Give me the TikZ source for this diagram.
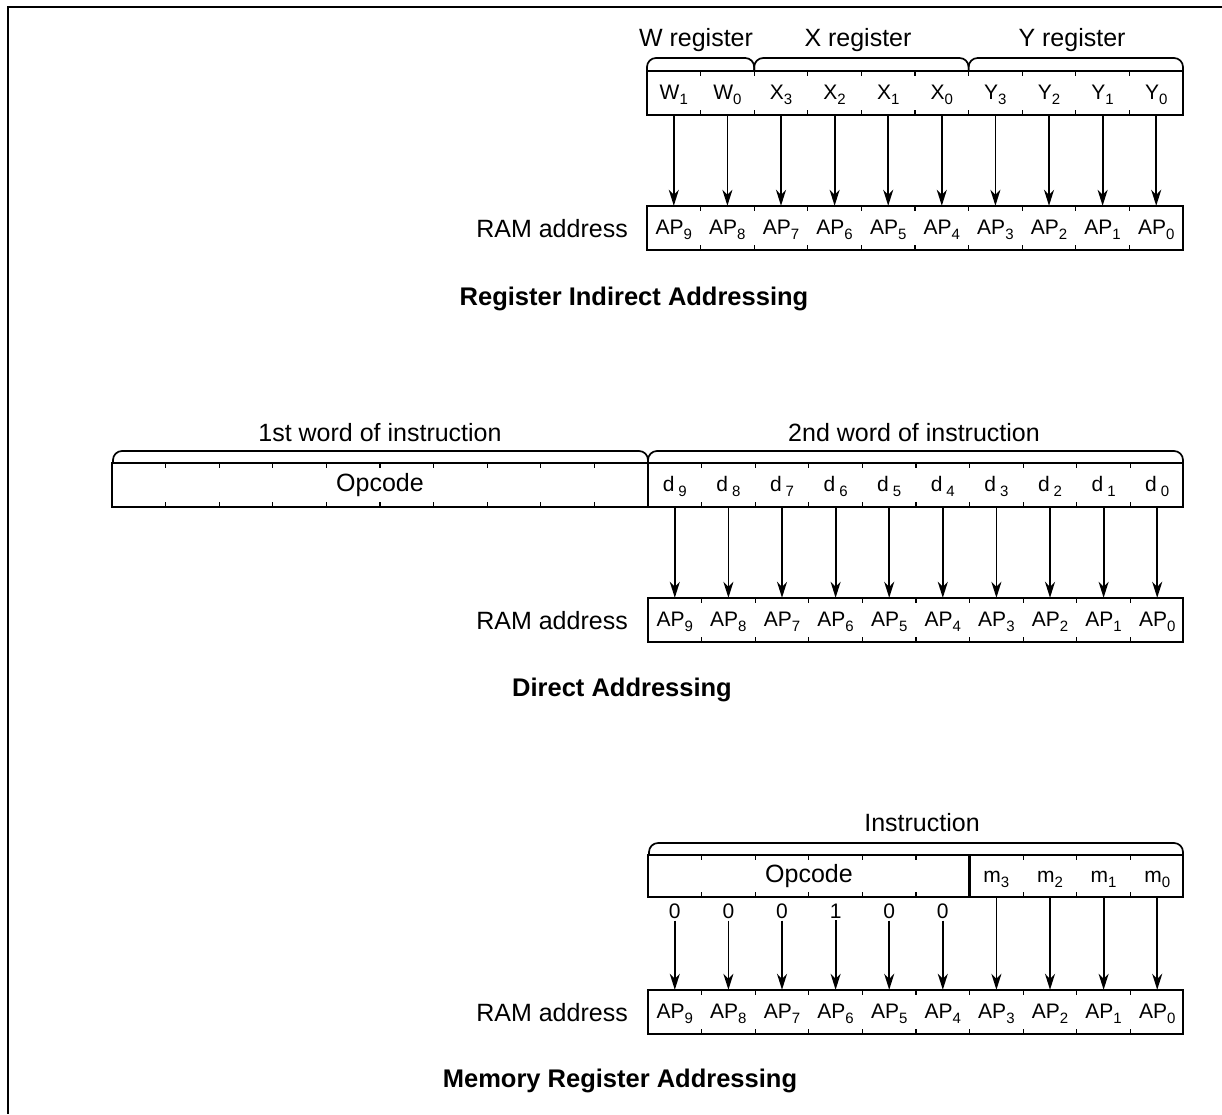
\documentclass[tikz,border=0pt]{standalone}
\usepackage{fontspec}
\setmainfont{Liberation Sans}
\usetikzlibrary{arrows.meta}
\newcommand{\sbx}[2]{#1\raisebox{-5pt}{\fontsize{15}{15}\selectfont#2}}
\newcommand{\sbd}[2]{#1\hspace{4pt}\raisebox{-5pt}{\fontsize{15}{15}\selectfont#2}}
% name, x0, ycenter, first index, labels
\newcommand{\cellrow}[5]{%
  \foreach \lab [count=\i from #4] in {#5}{
    \node[cellnode] (#1\i) at ({#2+(\i+0.5)*53.6},#3) {\lab};
  }}
% x0, ytop, ybot, list of boundaries
\newcommand{\tickrow}[4]{%
  \foreach \k in {#4}{
    \draw[tick] ({#1+\k*53.6},#2) -- ++(0,5);
    \draw[tick] ({#1+\k*53.6},#3) -- ++(0,-5);
  }}
\begin{document}
\begin{tikzpicture}[x=1pt,y=-1pt,
  cellnode/.style={inner sep=0pt, minimum width=53.6pt, minimum height=44pt, text height=14pt, text depth=1pt, font=\fontsize{21}{24}\selectfont},
  regbox/.style={draw, line width=2.8pt},
  divider/.style={line width=1.8pt},
  tick/.style={line width=1.3pt},
  brace/.style={line width=1.7pt, rounded corners=9pt},
  arr/.style={line width=1.8pt, -{Stealth[length=16pt,width=10pt,inset=5pt]}},
  hdr/.style={inner sep=0pt, font=\fontsize{25}{30}\selectfont},
  ttl/.style={inner sep=0pt, font=\bfseries\fontsize{25.5}{30}\selectfont},
  digit/.style={inner sep=2pt, font=\fontsize{21}{24}\selectfont},
]
\useasboundingbox (0,0) rectangle (1222,1114);
\fill[white] (0,0) rectangle (1222,1114);
% frame
\draw[line width=2.5pt] (1222,7) -- (8,7) -- (8,1114);

% ===== Register Indirect Addressing =====
\node[hdr] (hw) at (696,40) {W register};
\node[hdr] (hx) at (858,40) {X register};
\node[hdr] (hy) at (1072,40) {Y register};
\draw[brace] (647,71) -- (647,58) -- (754.2,58) -- (754.2,71);
\draw[brace] (754.2,71) -- (754.2,58) -- (968.6,58) -- (968.6,71);
\draw[brace] (968.6,71) -- (968.6,58) -- (1183,58) -- (1183,71);
\cellrow{t}{647}{93}{0}{\sbx{W}{1},\sbx{W}{0},\sbx{X}{3},\sbx{X}{2},\sbx{X}{1},\sbx{X}{0},\sbx{Y}{3},\sbx{Y}{2},\sbx{Y}{1},\sbx{Y}{0}}
\draw[regbox] (647,71) rectangle (1183,115);
\tickrow{647}{71}{115}{1,...,9}
\cellrow{a}{647}{228}{0}{\sbx{AP}{9},\sbx{AP}{8},\sbx{AP}{7},\sbx{AP}{6},\sbx{AP}{5},\sbx{AP}{4},\sbx{AP}{3},\sbx{AP}{2},\sbx{AP}{1},\sbx{AP}{0}}
\draw[regbox] (647,206) rectangle (1183,250);
\tickrow{647}{206}{250}{1,...,9}
\foreach \i in {0,...,9} \draw[arr] (t\i.south) -- (a\i.north);
\node[hdr, anchor=east] (ram1) at (628,229) {RAM address};
\node[ttl] (ti1) at (634,299) {Register Indirect Addressing};

% ===== Direct Addressing =====
\node[hdr] (h1st) at (380,433) {1st word of instruction};
\node[hdr] (h2nd) at (914,433) {2nd word of instruction};
\draw[brace] (113,463) -- (113,451) -- (648,451) -- (648,463);
\draw[brace] (648,463) -- (648,451) -- (1183,451) -- (1183,463);
\node[cellnode, minimum width=536pt] (op2) at (380,485) {\fontsize{25}{30}\selectfont Opcode};
\cellrow{d}{648}{485}{0}{\sbd{d}{9},\sbd{d}{8},\sbd{d}{7},\sbd{d}{6},\sbd{d}{5},\sbd{d}{4},\sbd{d}{3},\sbd{d}{2},\sbd{d}{1},\sbd{d}{0}}
\draw[regbox] (112,463) rectangle (1183,507);
\draw[divider] (648,463) -- (648,507);
\tickrow{112}{463}{507}{1,...,9}
\tickrow{648}{463}{507}{1,...,9}
\cellrow{b}{648}{620}{0}{\sbx{AP}{9},\sbx{AP}{8},\sbx{AP}{7},\sbx{AP}{6},\sbx{AP}{5},\sbx{AP}{4},\sbx{AP}{3},\sbx{AP}{2},\sbx{AP}{1},\sbx{AP}{0}}
\draw[regbox] (648,598) rectangle (1183,642);
\tickrow{648}{598}{642}{1,...,9}
\foreach \i in {0,...,9} \draw[arr] (d\i.south) -- (b\i.north);
\node[hdr, anchor=east] (ram2) at (628,621) {RAM address};
\node[ttl] (ti2) at (622,690) {Direct Addressing};

% ===== Memory Register Addressing =====
\node[hdr] (hin) at (922,823) {Instruction};
\draw[brace] (649,855) -- (649,843) -- (1183,843) -- (1183,855);
\node[cellnode, minimum width=321pt, minimum height=42pt] (op3) at (809,876) {\fontsize{25}{30}\selectfont Opcode};
\foreach \lab [count=\i from 6] in {\sbx{m}{3},\sbx{m}{2},\sbx{m}{1},\sbx{m}{0}}
  \node[cellnode, minimum height=42pt] (m\i) at ({648+(\i+0.5)*53.6},876) {\lab};
\draw[regbox] (648,855) rectangle (1183,897);
\draw[regbox] (969.6,855) -- (969.6,897);
\tickrow{648}{855}{897}{1,2,3,4,5,7,8,9}
\foreach \v [count=\i from 0] in {0,0,0,1,0,0}
  \node[digit] (n\i) at ({648+(\i+0.5)*53.6},911) {\v};
\cellrow{c}{648}{1012}{0}{\sbx{AP}{9},\sbx{AP}{8},\sbx{AP}{7},\sbx{AP}{6},\sbx{AP}{5},\sbx{AP}{4},\sbx{AP}{3},\sbx{AP}{2},\sbx{AP}{1},\sbx{AP}{0}}
\draw[regbox] (648,990) rectangle (1183,1034);
\tickrow{648}{990}{1034}{1,...,9}
\foreach \i in {0,...,5} \draw[arr] (n\i.south) -- (c\i.north);
\foreach \i in {6,...,9} \draw[arr] (m\i.south) -- (c\i.north);
\node[hdr, anchor=east] (ram3) at (628,1013) {RAM address};
\node[ttl] (ti3) at (620,1081) {Memory Register Addressing};
\end{tikzpicture}
\end{document}
